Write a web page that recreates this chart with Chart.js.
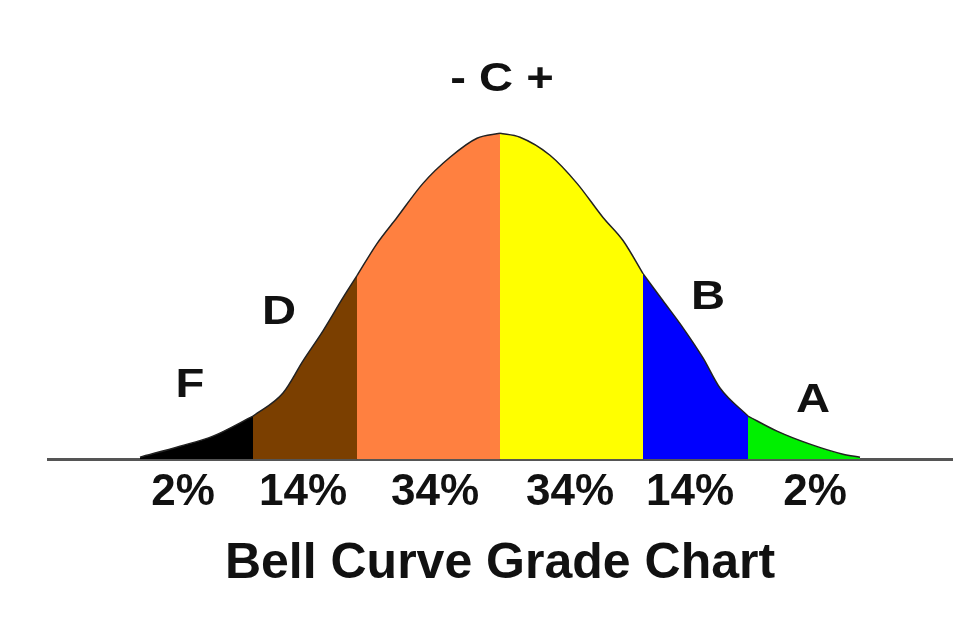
<!DOCTYPE html>
<html lang="en">
<head>
    <meta charset="UTF-8">
    <script src="https://cdn.jsdelivr.net/npm/chart.js"></script>
    <title>Bell Curve Grade Chart</title>
    <style>
        body { margin: 0; background: #fff; }
    </style>
</head>
<body>
    <canvas id="chart" width="980" height="632"></canvas>
    <script>
        // curve: x position and height above the baseline
        const curveX = [140, 180, 213, 253, 283, 303, 323, 343, 357, 377, 397, 423, 450, 477, 500,
                        520, 550, 577, 603, 623, 643, 663, 683, 703, 720, 748, 777, 810, 843, 860];
        const curveY = [2, 13, 23, 43, 66, 98, 128, 161, 183, 215, 241, 275, 301, 320, 325,
                        321, 303, 275, 241, 218, 185, 158, 131, 101, 71, 43, 28, 15, 5, 2];

        // grade bands
        const bandStart = [140, 253, 357, 500, 643, 748];
        const bandEnd = [253, 357, 500, 643, 748, 860];
        const bandColors = ['#000000', '#7b3f00', '#ff8040', '#ffff00', '#0000ff', '#00f000'];

        // dividing lines drawn between bands
        const dividerX = [357, 500, 643];

        // percentage labels under the axis
        const tickX = [183, 303, 435, 570, 690, 815];
        const tickLabels = ['2%', '14%', '34%', '34%', '14%', '2%'];

        // grade letters above the curve
        const gradeText = ['F', 'D', '- C +', 'B', 'A'];
        const gradeX = [190, 279, 502, 708, 813];
        const gradeY = [73, 146, 378, 161, 58];

        function heightAt(x) {
            return curveY[curveX.indexOf(x)];
        }

        const datasets = [];
        bandStart.forEach((start, i) => {
            const pts = [];
            curveX.forEach((x, j) => {
                if (x >= start && x <= bandEnd[i]) pts.push({x: x, y: curveY[j]});
            });
            datasets.push({
                data: pts,
                backgroundColor: bandColors[i],
                borderColor: '#222',
                borderWidth: 1.5,
                pointRadius: 0,
                cubicInterpolationMode: 'monotone',
                fill: 'origin'
            });
        });
        dividerX.forEach(x => {
            datasets.push({
                data: [{x: x, y: 0}, {x: x, y: heightAt(x)}],
                borderColor: '#111',
                borderWidth: 2,
                pointRadius: 0,
                fill: false
            });
        });

        // letters look a bit wide in the original, so stretch them sideways
        const gradeLabelPlugin = {
            id: 'gradeLabels',
            afterDatasetsDraw(chart) {
                const ctx = chart.ctx;
                const xs = chart.scales.x;
                const ys = chart.scales.y;
                ctx.save();
                ctx.font = 'bold 40px "Liberation Sans", Arial, sans-serif';
                ctx.fillStyle = '#111';
                ctx.textAlign = 'center';
                ctx.textBaseline = 'middle';
                gradeText.forEach((t, i) => {
                    const px = xs.getPixelForValue(gradeX[i]);
                    const py = ys.getPixelForValue(gradeY[i]);
                    ctx.save();
                    ctx.translate(px, py);
                    ctx.scale(1.18, 1);
                    ctx.fillText(t, 0, 0);
                    ctx.restore();
                });
                ctx.restore();
            }
        };

        new Chart(document.getElementById('chart'), {
            type: 'line',
            data: { datasets: datasets },
            options: {
                responsive: false,
                animation: false,
                layout: { padding: { left: 48, right: 28, top: 58, bottom: 16 } },
                plugins: {
                    legend: { display: false },
                    tooltip: { enabled: false },
                    title: {
                        display: true,
                        position: 'bottom',
                        text: 'Bell Curve Grade Chart',
                        color: '#111',
                        font: { family: '"Liberation Sans", Arial, sans-serif', size: 50, weight: 'bold' },
                        padding: { top: 8, bottom: 22 }
                    }
                },
                scales: {
                    x: {
                        type: 'linear',
                        min: 48,
                        max: 952,
                        afterBuildTicks: scale => {
                            scale.ticks = tickX.map(v => ({ value: v }));
                        },
                        ticks: {
                            autoSkip: false,
                            maxRotation: 0,
                            padding: 7,
                            color: '#111',
                            font: { family: '"Liberation Sans", Arial, sans-serif', size: 44, weight: 'bold' },
                            callback: (value, index) => tickLabels[index]
                        },
                        grid: { drawOnChartArea: false, drawTicks: false, color: 'transparent' },
                        border: { display: true, color: '#555', width: 3 }
                    },
                    y: {
                        display: false,
                        min: 0,
                        max: 400
                    }
                }
            },
            plugins: [gradeLabelPlugin]
        });
    </script>
</body>
</html>
